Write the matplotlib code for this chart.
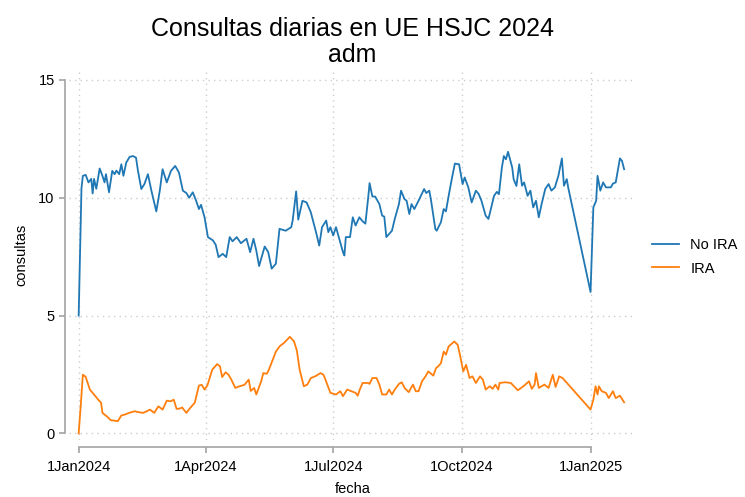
import numpy as np
import matplotlib
matplotlib.use("Agg")
import matplotlib.pyplot as plt
from matplotlib.ticker import FixedLocator

plt.rcParams["font.family"] = ["Liberation Sans", "DejaVu Sans"]

# days since 1 Jan 2024
no_ira_days = [0, 2, 3, 5, 7, 9, 10, 11, 12.6, 15, 17, 18.5, 19.5, 21.7, 24, 25.7, 27, 29, 30.5, 32,
               34, 36.4, 38.8, 41, 42.4, 44.8, 47, 49.5, 52, 55.5, 58, 60, 63, 66, 69, 71.7, 74.5, 77,
               79, 81.6, 84, 86, 87.5, 90, 92.4, 96, 98, 100, 103, 105.5, 108, 110, 113, 116, 120,
               122.6, 125, 127, 129, 133, 135.5, 138, 141, 143.6, 148, 152, 153, 155.5, 157, 160, 163,
               166, 170, 172, 174, 177, 178.5, 180, 182, 184, 186, 189, 190, 191, 194, 196, 198, 200.7,
               203, 205, 207, 208, 210, 212, 215, 217, 218.5, 220, 224, 226, 229, 230.5, 233, 234.5,
               236.4, 238, 240, 243, 247, 248.5, 250.7, 252, 255, 256, 259, 261, 262.6, 265, 267, 269,
               272, 274.5, 276, 278.6, 281, 284, 286, 288, 291, 293, 295, 297, 299, 300.5, 302.6, 304,
               305.5, 307, 310, 311, 313, 315, 317, 318.5, 321, 323, 325, 327, 329, 331, 333.6, 336,
               338, 340.5, 343, 345.5, 347, 349, 350, 366, 368, 370, 371, 373, 375, 377, 380.5, 382,
               384, 387, 388.5, 390]
no_ira = [5.0, 10.4, 10.93, 10.97, 10.65, 10.8, 10.18, 10.8, 10.38, 11.24, 10.93, 10.65, 11.0, 10.23,
          11.14, 11.0, 11.15, 11.0, 11.42, 10.93, 11.49, 11.73, 11.77, 11.7, 11.14, 10.37, 10.58, 11.0,
          10.3, 9.42, 10.3, 11.21, 10.65, 11.14, 11.35, 11.07, 10.3, 10.2, 10.0, 10.23, 9.87, 9.52, 9.7,
          9.17, 8.33, 8.19, 8.0, 7.48, 7.62, 7.48, 8.33, 8.15, 8.33, 8.07, 8.26, 7.69, 8.26, 7.76, 7.1,
          7.93, 7.7, 6.99, 7.2, 8.68, 8.6, 8.75, 9.03, 10.27, 9.07, 9.87, 9.8, 9.38, 8.47, 7.97, 8.75,
          9.03, 8.54, 8.75, 8.4, 8.75, 8.33, 7.69, 7.55, 8.33, 8.33, 9.17, 8.82, 9.17, 9.0, 8.9, 10.0,
          10.62, 10.05, 10.05, 9.73, 9.24, 9.2, 8.33, 8.6, 9.1, 9.73, 10.3, 9.94, 9.87, 9.31, 9.73,
          9.52, 9.87, 10.37, 10.2, 10.3, 9.87, 8.68, 8.6, 8.96, 9.52, 9.42, 10.23, 10.86, 11.45, 11.42,
          10.58, 10.86, 10.44, 9.8, 10.3, 10.16, 9.87, 9.24, 9.1, 9.59, 10.08, 10.25, 10.15, 11.28,
          11.77, 11.63, 11.95, 11.28, 10.79, 10.5, 11.42, 10.51, 10.65, 10.08, 10.3, 9.59, 9.87, 9.17,
          9.73, 10.37, 10.58, 10.3, 10.44, 10.93, 11.67, 10.51, 10.79, 10.44, 6.0, 9.59, 9.87, 10.93,
          10.3, 10.65, 10.44, 10.44, 10.6, 10.65, 11.67, 11.56, 11.21]

ira_days = [0, 1.5, 3, 5, 8, 10, 14, 16, 17, 20, 23, 28, 30.5, 33, 36, 40, 43, 46, 49, 51, 54, 57, 60,
            63, 65.5, 68, 70, 72, 74, 77, 80, 83, 86, 88, 90, 92, 95.5, 99, 101, 102.6, 105, 107, 109,
            112, 115, 118.5, 121.6, 123, 125.5, 127, 130.5, 132, 134.5, 136, 141, 143.6, 147, 151, 154,
            156, 158, 161, 163.5, 166, 169, 173, 175, 176, 180, 184, 187, 189, 192, 195, 198, 199.5,
            201, 203, 207, 208, 210, 213, 215, 217, 220, 222, 224, 226, 229, 231, 233, 236, 239, 241,
            243, 245.5, 248, 250, 253.6, 255.5, 257, 259, 261, 262.6, 264.5, 268.6, 271, 272.6, 275,
            277, 279.5, 281.6, 284, 287, 289, 291, 294, 296, 298, 300, 301, 305, 309, 314, 318, 322,
            324, 326, 327, 329, 333, 336, 339, 341, 343.6, 346, 366, 368, 369.6, 371, 372, 374, 377,
            379, 382, 384, 387, 388.5, 390]
ira = [0.0, 1.2, 2.49, 2.4, 1.86, 1.72, 1.43, 1.3, 0.87, 0.73, 0.56, 0.52, 0.76, 0.8, 0.87, 0.94, 0.9,
       0.87, 0.95, 1.01, 0.87, 1.15, 1.01, 1.39, 1.36, 1.43, 1.04, 1.05, 1.1, 0.87, 1.1, 1.3, 2.03,
       2.06, 1.86, 2.03, 2.7, 2.94, 2.85, 2.39, 2.59, 2.5, 2.3, 1.93, 2.0, 2.06, 2.28, 1.8, 1.93, 1.65,
       2.21, 2.56, 2.53, 2.7, 3.47, 3.69, 3.85, 4.1, 3.9, 3.52, 2.7, 2.0, 2.07, 2.35, 2.42, 2.56, 2.49,
       2.35, 1.72, 1.65, 1.79, 1.58, 1.86, 1.79, 1.72, 1.6, 1.86, 2.14, 2.14, 2.1, 2.35, 2.35, 2.07,
       1.65, 1.65, 1.86, 1.65, 1.86, 2.1, 2.17, 1.93, 1.75, 2.07, 1.79, 1.79, 2.21, 2.42, 2.63, 2.45,
       2.77, 2.84, 2.98, 3.47, 3.34, 3.69, 3.9, 3.76, 3.34, 2.63, 2.91, 2.35, 2.42, 2.14, 2.42, 2.28,
       1.86, 2.0, 1.89, 2.07, 1.86, 2.14, 2.17, 2.14, 1.83, 2.0, 2.21, 1.89, 2.07, 2.56, 1.93, 2.07,
       1.93, 2.49, 1.97, 2.42, 2.35, 1.01, 1.43, 2.0, 1.65, 2.0, 1.79, 1.72, 1.5, 1.79, 1.5, 1.6, 1.46,
       1.32]

tick_dates = ["2024-01-01", "2024-04-01", "2024-07-01", "2024-10-01", "2025-01-01"]
tick_labels = ["1Jan2024", "1Apr2024", "1Jul2024", "1Oct2024", "1Jan2025"]
y_ticks = [0, 5, 10, 15]

start = np.datetime64("2024-01-01T00:00")
to_dates = lambda d: start + (np.array(d) * 24 * 60).astype("timedelta64[m]")

fig = plt.figure(figsize=(7.45, 4.97), dpi=100, facecolor="white")
ax = fig.add_axes([69 / 745, 57 / 497, 567 / 745, 370 / 497])

ax.plot(to_dates(no_ira_days), no_ira, color="#1f77b4", linewidth=1.3, label="No IRA")
ax.plot(to_dates(ira_days), ira, color="#ff7f0e", linewidth=1.3, label="IRA")

xt = [np.datetime64(d) for d in tick_dates]
ax.set_xlim(start - np.timedelta64(166, "h"), start + np.timedelta64(398 * 24 + 12, "h"))
ax.set_ylim(-0.28, 15.42)
ax.xaxis.set_major_locator(FixedLocator(matplotlib.dates.date2num(xt)))
ax.set_xticklabels(tick_labels)
ax.yaxis.set_major_locator(FixedLocator(y_ticks))

ax.grid(True, color="#cdcdcd", linestyle=(0, (1, 3)), linewidth=1.0)

gray = "#a3a3a3"
for s in ["top", "right"]:
    ax.spines[s].set_visible(False)
ax.spines["left"].set_position(("outward", 3))
ax.spines["bottom"].set_position(("outward", 5))
ax.spines["left"].set_bounds(0, 15)
ax.spines["bottom"].set_bounds(matplotlib.dates.date2num(xt[0]), matplotlib.dates.date2num(xt[-1]))
for s in ["left", "bottom"]:
    ax.spines[s].set_color(gray)
    ax.spines[s].set_linewidth(1.2)
ax.tick_params(axis="both", colors=gray, labelcolor="black", labelsize=10.5,
               length=4.3, width=1.2, direction="out")
ax.tick_params(axis="y", pad=3)
ax.tick_params(axis="x", pad=5)

ax.set_xlabel("fecha", fontsize=10.5, labelpad=6)
ax.set_ylabel("consultas", fontsize=10.5, labelpad=7)

fig.text(352.5 / 745, 1 - 35.5 / 497, "Consultas diarias en UE HSJC 2024",
         ha="center", va="baseline", fontsize=18)
fig.text(352.5 / 745, 1 - 62 / 497, "adm", ha="center", va="baseline", fontsize=18)

fig.legend(loc="center left", bbox_to_anchor=(645 / 745, 1 - 257 / 497), frameon=False,
           fontsize=10.5, borderpad=0, handlelength=1.8, handletextpad=0.8, labelspacing=0.62)

fig.savefig("out.png", dpi=100, facecolor="white")
